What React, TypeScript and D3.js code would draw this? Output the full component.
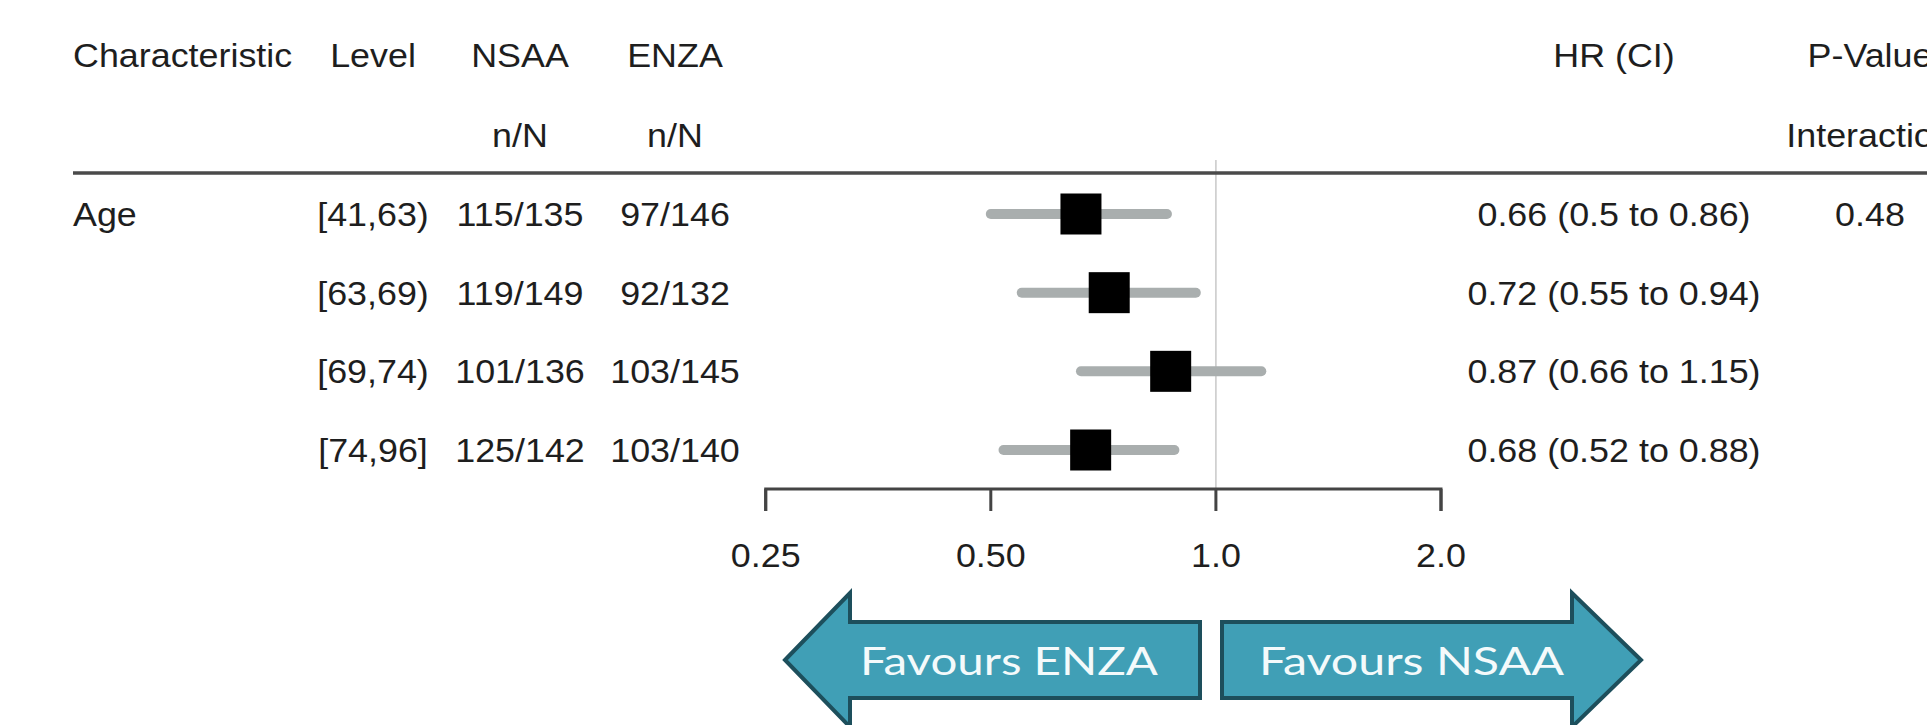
import React from "react";
import * as d3 from "d3";

const characteristic = "Age";
const levels = ["[41,63)", "[63,69)", "[69,74)", "[74,96]"];
const nsaaN = ["115/135", "119/149", "101/136", "125/142"];
const enzaN = ["97/146", "92/132", "103/145", "103/140"];
const hr = [0.66, 0.72, 0.87, 0.68];
const lower = [0.5, 0.55, 0.66, 0.52];
const upper = [0.86, 0.94, 1.15, 0.88];
const pInteraction = ["0.48", "", "", ""];
const tickValues = [0.25, 0.5, 1, 2];
const tickLabels = ["0.25", "0.50", "1.0", "2.0"];
const headers1 = ["Characteristic", "Level", "NSAA", "ENZA", "HR (CI)", "P-Value"];
const headers2 = ["", "", "n/N", "n/N", "", "Interaction"];
const favourLabels = ["Favours ENZA", "Favours NSAA"];

const W = 1927;
const H = 725;
const FONT = "'Liberation Sans', Arial, Helvetica, sans-serif";
const FS = 34;
const SX = 1.055;
const TXT = "#1e1e1e";

const colX = [73, 373, 520, 675, 1614, 1870];
const colAnchor = ["start", "middle", "middle", "middle", "middle", "middle"];

function T({ x, y, anchor, children }: any) {
  return (
    <text
      transform={`translate(${x},${y}) scale(${SX},1)`}
      textAnchor={anchor}
      fontFamily={FONT}
      fontSize={FS}
      fill={TXT}
    >
      {children}
    </text>
  );
}

export default function App() {
  const x = d3.scaleLog().base(2).domain([0.25, 2]).range([765.7, 1441]);
  const y = d3.scaleLinear().domain([0, levels.length - 1]).range([226, 462]);
  const rowMid = (i: number) => y(i) - 12;
  const axisY = 489;
  const sq = 41;

  const rows = levels.map((lv, i) => [
    i === 0 ? characteristic : "",
    lv,
    nsaaN[i],
    enzaN[i],
    `${hr[i]} (${lower[i]} to ${upper[i]})`,
    pInteraction[i],
  ]);

  // arrows
  const shaftTop = 622, shaftBot = 698, headTop = 593, headBot = 727, midY = 660;
  const leftArrow = [
    [785, midY], [850, headTop], [850, shaftTop], [1200, shaftTop],
    [1200, shaftBot], [850, shaftBot], [850, headBot],
  ];
  const rightArrow = [
    [1641, midY], [1572, headTop], [1572, shaftTop], [1222, shaftTop],
    [1222, shaftBot], [1572, shaftBot], [1572, headBot],
  ];
  const line = d3.line().curve(d3.curveLinearClosed);

  return (
    <svg
      width={W}
      height={H}
      style={{ position: "absolute", left: 0, top: 0, background: "#fff" }}
    >
      <rect width={W} height={H} fill="#fff" />
      {headers1.map((h, j) => (
        <T key={"h1" + j} x={colX[j]} y={67} anchor={colAnchor[j]}>{h}</T>
      ))}
      {headers2.map((h, j) =>
        h ? <T key={"h2" + j} x={colX[j]} y={147} anchor={colAnchor[j]}>{h}</T> : null
      )}
      <line x1={x(1)} x2={x(1)} y1={160} y2={axisY} stroke="#c8c8c8" strokeWidth={1.5} />
      <line x1={73} x2={W} y1={173} y2={173} stroke="#4a4a4a" strokeWidth={3.5} />

      {rows.map((r, i) =>
        r.map((c, j) =>
          c ? <T key={`c${i}-${j}`} x={colX[j]} y={y(i)} anchor={colAnchor[j]}>{c}</T> : null
        )
      )}

      {hr.map((v, i) => (
        <g key={"ci" + i}>
          <line
            x1={x(lower[i])}
            x2={x(upper[i])}
            y1={rowMid(i)}
            y2={rowMid(i)}
            stroke="#a9aeae"
            strokeWidth={10}
            strokeLinecap="round"
          />
          <rect x={x(v) - sq / 2} y={rowMid(i) - sq / 2} width={sq} height={sq} fill="#000" />
        </g>
      ))}

      <path
        d={`M${x(0.25)},${axisY + 22}V${axisY}H${x(2)}V${axisY + 22}`}
        fill="none"
        stroke="#444"
        strokeWidth={3}
      />
      {tickValues.map((t, i) => (
        <g key={"t" + i}>
          <line x1={x(t)} x2={x(t)} y1={axisY} y2={axisY + 22} stroke="#444" strokeWidth={3} />
          <T x={x(t)} y={567} anchor="middle">{tickLabels[i]}</T>
        </g>
      ))}

      <path d={line(leftArrow as any) as string} fill="#409fb6" stroke="#1d4f5c" strokeWidth={4} strokeLinejoin="miter" />
      <path d={line(rightArrow as any) as string} fill="#409fb6" stroke="#1d4f5c" strokeWidth={4} strokeLinejoin="miter" />
      <text x={860} y={675} textLength={298} lengthAdjust="spacingAndGlyphs" fontFamily="Lato, 'Open Sans', sans-serif" fontSize={38} fill="#f4fafb">
        {favourLabels[0]}
      </text>
      <text x={1259} y={675} textLength={305} lengthAdjust="spacingAndGlyphs" fontFamily="Lato, 'Open Sans', sans-serif" fontSize={38} fill="#f4fafb">
        {favourLabels[1]}
      </text>
    </svg>
  );
}
